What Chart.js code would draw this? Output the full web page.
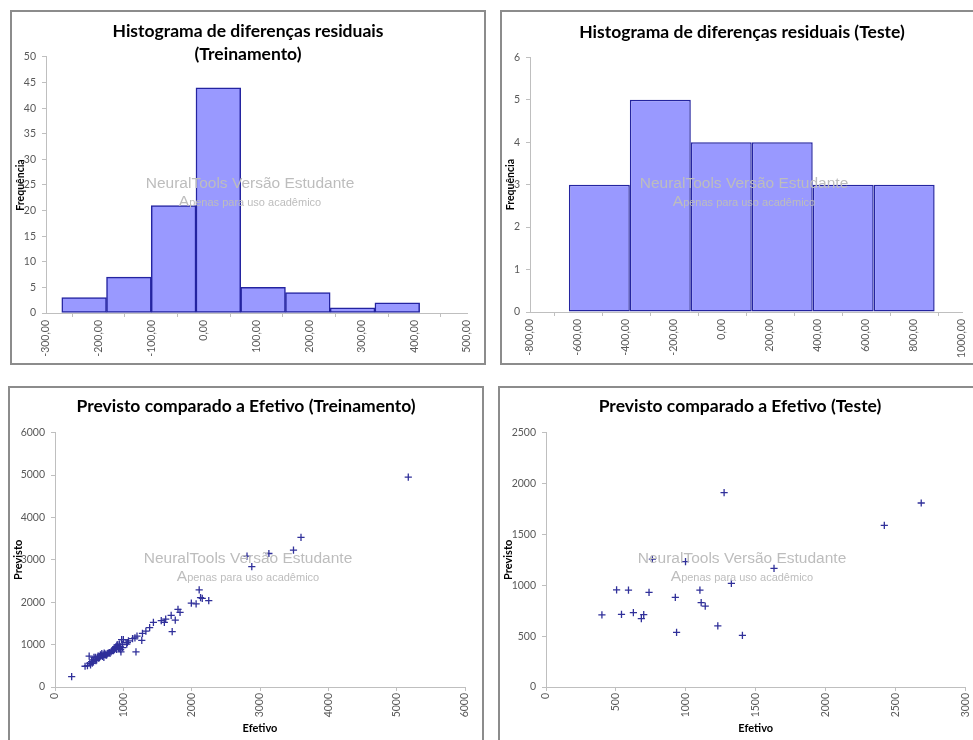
<!DOCTYPE html>
<html><head><meta charset="utf-8">
<script src="https://cdn.jsdelivr.net/npm/chart.js@4/dist/chart.umd.min.js"></script>
<style>
html,body{margin:0;padding:0;background:#fff;overflow:hidden;width:973px;height:740px;}
.panel{position:absolute;border:2px solid #8c8c8c;background:#fff;}
.panel canvas{display:block;}
</style></head><body>
<div class="panel" style="left:10px;top:10px;width:472px;height:351px"><canvas id="c1" width="472" height="351"></canvas></div>
<div class="panel" style="left:500px;top:10px;width:480px;height:351px"><canvas id="c2" width="480" height="351"></canvas></div>
<div class="panel" style="left:8px;top:386px;width:472px;height:360px"><canvas id="c3" width="472" height="352"></canvas></div>
<div class="panel" style="left:498px;top:386px;width:480px;height:360px"><canvas id="c4" width="480" height="352"></canvas></div>
<script>
// ---- Histogram (Treinamento) ----
const trainBinEdges = [-270, -185, -100, -15, 70, 155, 240, 325, 410];
const trainBinCounts = [3, 7, 21, 44, 5, 4, 1, 2];
const trainResTicks = [-300, -200, -100, 0, 100, 200, 300, 400, 500];
const trainFreqTicks = [0, 5, 10, 15, 20, 25, 30, 35, 40, 45, 50];

// ---- Histogram (Teste) ----
const testBinEdges = [-638, -384, -130, 124, 378, 632, 886];
const testBinCounts = [3, 5, 4, 4, 3, 3];
const testResTicks = [-800, -600, -400, -200, 0, 200, 400, 600, 800, 1000];
const testFreqTicks = [0, 1, 2, 3, 4, 5, 6];

// ---- Previsto vs Efetivo (Treinamento) ----
const trainActual = [5170,3600,3490,3130,2810,2880,2110,2130,2155,2250,1995,2065,1800,1830,1700,1760,1715,1620,1600,1555,
  1440,1385,1330,1280,1270,1200,1185,1170,1135,1075,1050,1060,1000,965,
  244,440,475,500,510,520,535,545,555,560,570,585,590,600,610,620,630,640,650,660,665,675,685,695,705,715,720,730,740,755,765,780,795,805,820,830,845,855,870,880,890,900,905,915,920,930,940,945,955,960,975,985,990];
const trainPredicted = [4950,3530,3230,3150,3090,2840,2290,2110,2090,2040,1980,1960,1830,1760,1690,1580,1305,1600,1525,1565,
  1525,1400,1320,1265,1100,1200,830,1160,1140,1090,1010,1050,1120,830,
  244,490,505,730,560,520,600,560,640,600,700,650,700,620,640,700,730,680,700,720,760,740,790,720,760,700,800,780,760,750,790,800,810,795,830,850,870,860,880,910,950,890,990,960,1000,920,910,1010,950,880,1120,1000,930];
const trainAxisTicks = [0, 1000, 2000, 3000, 4000, 5000, 6000];

// ---- Previsto vs Efetivo (Teste) ----
const testActual = [400,505,540,590,625,682,699,737,761,925,934,998,1101,1110,1139,1229,1274,1326,1405,1631,2420,2684];
const testPredicted = [710,955,714,953,731,672,711,931,1258,881,537,1232,953,829,796,600,1910,1019,508,1166,1589,1809];
const testXTicks = [0, 500, 1000, 1500, 2000, 2500, 3000];
const testYTicks = [0, 500, 1000, 1500, 2000, 2500];

const FONT = 'Lato, "Open Sans", sans-serif';
const WM_FONT = '"Liberation Sans", Arial, sans-serif';

const watermark = {
  id: 'watermark',
  afterDraw(chart) {
    const ctx = chart.ctx, a = chart.chartArea;
    const cx = chart.width / 2 + 2, mid = (a.top + a.bottom) / 2;
    ctx.save();
    ctx.fillStyle = '#bdbdbd';
    ctx.textBaseline = 'alphabetic';
    ctx.textAlign = 'center';
    ctx.font = '15.5px ' + WM_FONT;
    ctx.fillText('NeuralTools Versão Estudante', cx, mid + 3);
    const wA = ctx.measureText('A').width;
    ctx.font = '11px ' + WM_FONT;
    const rest = 'penas para uso acadêmico';
    const wR = ctx.measureText(rest).width;
    const x0 = cx - (wA + wR) / 2;
    ctx.textAlign = 'left';
    ctx.font = '15.5px ' + WM_FONT;
    ctx.fillText('A', x0, mid + 21.5);
    ctx.font = '11px ' + WM_FONT;
    ctx.fillText(rest, x0 + wA, mid + 21.5);
    ctx.restore();
  }
};

const fmt2 = v => Number(v).toFixed(2).replace('.', ',');
const fmt0 = v => String(v);

function axisBase() {
  return {
    grid: { display: true, drawOnChartArea: false, drawTicks: true, tickLength: 4, color: '#bfbfbf' },
    border: { display: true, color: '#bfbfbf', width: 1 }
  };
}

// invisible right-side spacer so the title stays centred on the whole panel
function spacer(w) {
  return {
    position: 'right', display: true,
    grid: { display: false }, border: { display: false }, ticks: { display: false },
    afterFit(s) { s.width = w; }
  };
}

const TITLE_FONT = { family: FONT, size: 17.5, weight: 'bold', lineHeight: 1.314 };

function makeHist(id, edges, counts, xTicks, yTicks, titleText, titlePad, yWidth, xHeight, padRight) {
  const binW = edges[1] - edges[0];
  const xStep = xTicks[1] - xTicks[0];
  const data = counts.map((c, i) => ({ x: (edges[i] + edges[i + 1]) / 2, y: c }));
  new Chart(document.getElementById(id), {
    type: 'bar',
    data: { datasets: [{
      data,
      backgroundColor: '#9999ff',
      borderColor: '#2424a0',
      borderWidth: 1.5,
      borderSkipped: false,
      barPercentage: 1,
      categoryPercentage: binW / Math.min(binW, xStep)
    }] },
    options: {
      responsive: false, animation: false,
      layout: { padding: 0 },
      plugins: {
        legend: { display: false }, tooltip: { enabled: false },
        title: { display: true, text: titleText, color: '#000', font: TITLE_FONT, padding: titlePad }
      },
      scales: {
        x: Object.assign(axisBase(), {
          type: 'linear', offset: false, min: xTicks[0], max: xTicks[xTicks.length - 1],
          afterFit(s) { s.height = xHeight; },
          ticks: { stepSize: xStep, autoSkip: false, minRotation: 90, maxRotation: 90, padding: 3,
            color: '#595959', font: { family: FONT, size: 10.5 }, callback: v => fmt2(v) }
        }),
        y: Object.assign(axisBase(), {
          min: yTicks[0], max: yTicks[yTicks.length - 1],
          afterFit(s) { s.width = yWidth; },
          title: { display: true, text: 'Frequência', color: '#000', padding: { top: 2, bottom: 2 },
            font: { family: FONT, size: 10.5, weight: 'bold', lineHeight: 1.2 } },
          ticks: { stepSize: yTicks[1] - yTicks[0], padding: 6, color: '#595959', font: { family: FONT, size: 10.5 } }
        }),
        yr: spacer(padRight)
      }
    },
    plugins: [watermark]
  });
}

function makeScatter(id, xs, ys, xTicks, yTicks, titleText, yWidth, xHeight, padRight) {
  new Chart(document.getElementById(id), {
    type: 'scatter',
    data: { datasets: [{
      data: xs.map((x, i) => ({ x, y: ys[i] })),
      pointStyle: 'cross', pointRadius: 3.6, pointBorderWidth: 1.3,
      borderColor: '#30309a', backgroundColor: '#30309a'
    }] },
    options: {
      responsive: false, animation: false,
      layout: { padding: 0 },
      plugins: {
        legend: { display: false }, tooltip: { enabled: false },
        title: { display: true, text: titleText, color: '#000', font: TITLE_FONT, padding: { top: 7, bottom: 14.7 } }
      },
      scales: {
        x: Object.assign(axisBase(), {
          type: 'linear', min: xTicks[0], max: xTicks[xTicks.length - 1],
          afterFit(s) { s.height = xHeight; },
          title: { display: true, text: 'Efetivo', color: '#000', padding: { top: 5, bottom: 5 },
            font: { family: FONT, size: 11, weight: 'bold', lineHeight: 1.2 } },
          ticks: { stepSize: xTicks[1] - xTicks[0], autoSkip: false, minRotation: 90, maxRotation: 90, padding: 2,
            color: '#595959', font: { family: FONT, size: 10.5 }, callback: v => fmt0(v) }
        }),
        y: Object.assign(axisBase(), {
          min: yTicks[0], max: yTicks[yTicks.length - 1],
          afterFit(s) { s.width = yWidth; },
          title: { display: true, text: 'Previsto', color: '#000', padding: { top: 2, bottom: 2 },
            font: { family: FONT, size: 11, weight: 'bold', lineHeight: 1.2 } },
          ticks: { stepSize: yTicks[1] - yTicks[0], padding: 6, color: '#595959', font: { family: FONT, size: 10.5 },
            callback: v => fmt0(v) }
        }),
        yr: spacer(padRight)
      }
    },
    plugins: [watermark]
  });
}

makeHist('c1', trainBinEdges, trainBinCounts, trainResTicks, trainFreqTicks,
  ['Histograma de diferenças residuais', '(Treinamento)'], { top: 8, bottom: -9 }, 34, 50, 17);
makeHist('c2', testBinEdges, testBinCounts, testResTicks, testFreqTicks,
  'Histograma de diferenças residuais (Teste)', { top: 8.5, bottom: 13.8 }, 28, 51, 20);
makeScatter('c3', trainActual, trainPredicted, trainAxisTicks, trainAxisTicks,
  'Previsto comparado a Efetivo (Treinamento)', 45, 53, 17);
makeScatter('c4', testActual, testPredicted, testXTicks, testYTicks,
  'Previsto comparado a Efetivo (Teste)', 46, 53, 13);
</script>
</body></html>
